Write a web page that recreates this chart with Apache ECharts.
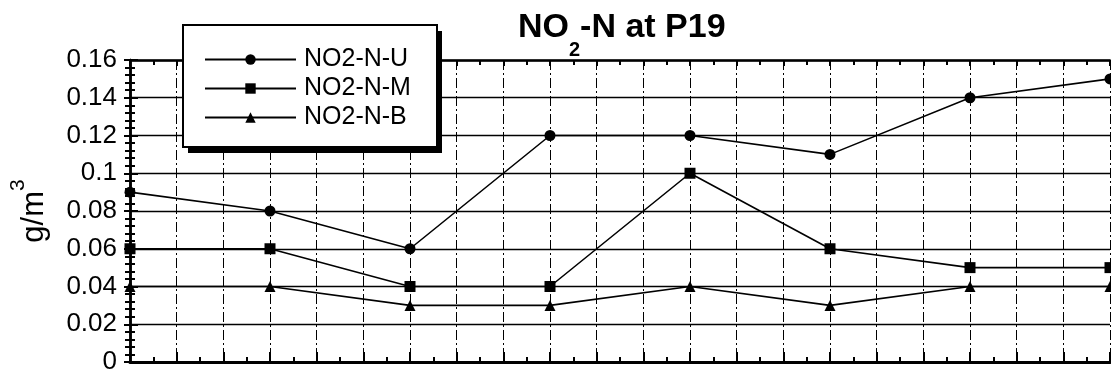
<!DOCTYPE html>
<html>
<head>
<meta charset="utf-8">
<script src="https://cdn.jsdelivr.net/npm/echarts@6/dist/echarts.min.js"></script>
<style>
  html, body { margin: 0; padding: 0; background: #fff; }
  #chart { width: 1111px; height: 381px; }
</style>
</head>
<body>
<div id="chart"></div>
<script>
// sampling stations along the x axis (no labels shown in the original)
const stations = ['1', '2', '3', '4', '5', '6', '7', '8']
const gridPerStation = 3 // dash-dot vertical grid lines per station step

const seriesNames = ['NO2-N-U', 'NO2-N-M', 'NO2-N-B']
const upper = [0.09, 0.08, 0.06, 0.12, 0.12, 0.11, 0.14, 0.15]
const middle = [0.06, 0.06, 0.04, 0.04, 0.10, 0.06, 0.05, 0.05]
const bottom = [0.04, 0.04, 0.03, 0.03, 0.04, 0.03, 0.04, 0.04]
const symbols = ['circle', 'rect', 'triangle']

const yMin = 0
const yMax = 0.16
const yStep = 0.02

const chart = echarts.init(document.getElementById('chart'), null, { renderer: 'canvas' })
const FONT = 'Liberation Sans, Arial, sans-serif'
const gridSteps = (stations.length - 1) * gridPerStation

function makeLine(name, data, symbol) {
  return {
    name: name,
    type: 'line',
    xAxisIndex: 0,
    yAxisIndex: 0,
    data: data,
    symbol: symbol,
    symbolSize: 11,
    showAllSymbol: true,
    clip: false,
    color: '#000',
    lineStyle: { color: '#000', width: 1.6 },
    itemStyle: { color: '#000' },
    z: 5
  }
}

// legend box with a hard drop shadow
const box = { x: 183, y: 25, w: 254, h: 122 }

const option = {
  backgroundColor: '#fff',
  animation: false,
  title: {
    text: '{a|NO}{b|2}{a|-N at P19}',
    left: 513,
    top: 6,
    textStyle: {
      rich: {
        a: { fontFamily: FONT, fontWeight: 'bold', fontSize: 34, color: '#000', lineHeight: 32, verticalAlign: 'top' },
        b: { fontFamily: FONT, fontWeight: 'bold', fontSize: 20, color: '#000', lineHeight: 49, verticalAlign: 'bottom' }
      }
    }
  },
  graphic: [
    {
      type: 'rect',
      shape: { x: box.x + 5, y: box.y + 6, width: box.w, height: box.h },
      style: { fill: '#000' },
      z: 15
    },
    {
      type: 'rect',
      shape: { x: box.x, y: box.y, width: box.w, height: box.h },
      style: { fill: '#fff', stroke: '#000', lineWidth: 2 },
      z: 16
    }
  ],
  legend: {
    orient: 'vertical',
    left: 204,
    top: 47,
    data: seriesNames,
    itemWidth: 91,
    itemHeight: 13,
    itemGap: 4,
    padding: 0,
    textStyle: { fontFamily: FONT, fontSize: 25, color: '#000', lineHeight: 24, padding: [0, 0, 0, 3] },
    z: 20
  },
  grid: {
    left: 126,
    right: 1,
    top: 60,
    bottom: 19,
    show: false
  },
  xAxis: [
    {
      type: 'category',
      data: stations,
      boundaryGap: false,
      show: false
    },
    {
      type: 'value',
      min: 0,
      max: gridSteps,
      interval: 1,
      position: 'bottom',
      axisLine: { show: true, lineStyle: { color: '#000', width: 3 } },
      axisTick: { show: true, inside: true, length: 10, lineStyle: { color: '#000', width: 2 } },
      minorTick: { show: true, splitNumber: 2, length: 5, lineStyle: { color: '#000', width: 2 } },
      axisLabel: { show: false },
      splitLine: { show: true, lineStyle: { color: '#000', width: 1, type: [10, 3, 2, 3] } }
    },
    {
      type: 'value',
      min: 0,
      max: gridSteps,
      interval: 1,
      position: 'top',
      axisLine: { show: true, lineStyle: { color: '#000', width: 2.5 } },
      axisTick: { show: true, inside: true, length: 6, lineStyle: { color: '#000', width: 2 } },
      minorTick: { show: true, splitNumber: 2, length: 5, lineStyle: { color: '#000', width: 2 } },
      axisLabel: { show: false },
      splitLine: { show: false }
    }
  ],
  yAxis: [
    {
      type: 'value',
      min: yMin,
      max: yMax,
      interval: yStep,
      name: '{a|g/m}{s|3}',
      nameLocation: 'middle',
      nameGap: 80,
      nameRotate: 90,
      nameTextStyle: {
        rich: {
          a: { fontFamily: FONT, fontSize: 31, color: '#000', lineHeight: 30, verticalAlign: 'bottom' },
          s: { fontFamily: FONT, fontSize: 21, color: '#000', lineHeight: 42, verticalAlign: 'top' }
        }
      },
      axisLine: { show: true, lineStyle: { color: '#000', width: 2.5 } },
      axisTick: { show: true, inside: true, length: 8, lineStyle: { color: '#000', width: 2 } },
      minorTick: { show: true, splitNumber: 5, length: 5, lineStyle: { color: '#000', width: 2 } },
      axisLabel: { fontFamily: FONT, fontSize: 26, color: '#000', margin: 13 },
      splitLine: { show: true, lineStyle: { color: '#000', width: 1.3 } }
    },
    {
      type: 'value',
      min: yMin,
      max: yMax,
      interval: yStep,
      position: 'right',
      axisLine: { show: true, lineStyle: { color: '#000', width: 2.5 } },
      axisTick: { show: true, inside: true, length: 6, lineStyle: { color: '#000', width: 2 } },
      minorTick: { show: true, splitNumber: 5, length: 5, lineStyle: { color: '#000', width: 2 } },
      axisLabel: { show: false },
      splitLine: { show: false }
    }
  ],
  series: [
    makeLine(seriesNames[0], upper, symbols[0]),
    makeLine(seriesNames[1], middle, symbols[1]),
    makeLine(seriesNames[2], bottom, symbols[2])
  ]
}

chart.setOption(option)
</script>
</body>
</html>
